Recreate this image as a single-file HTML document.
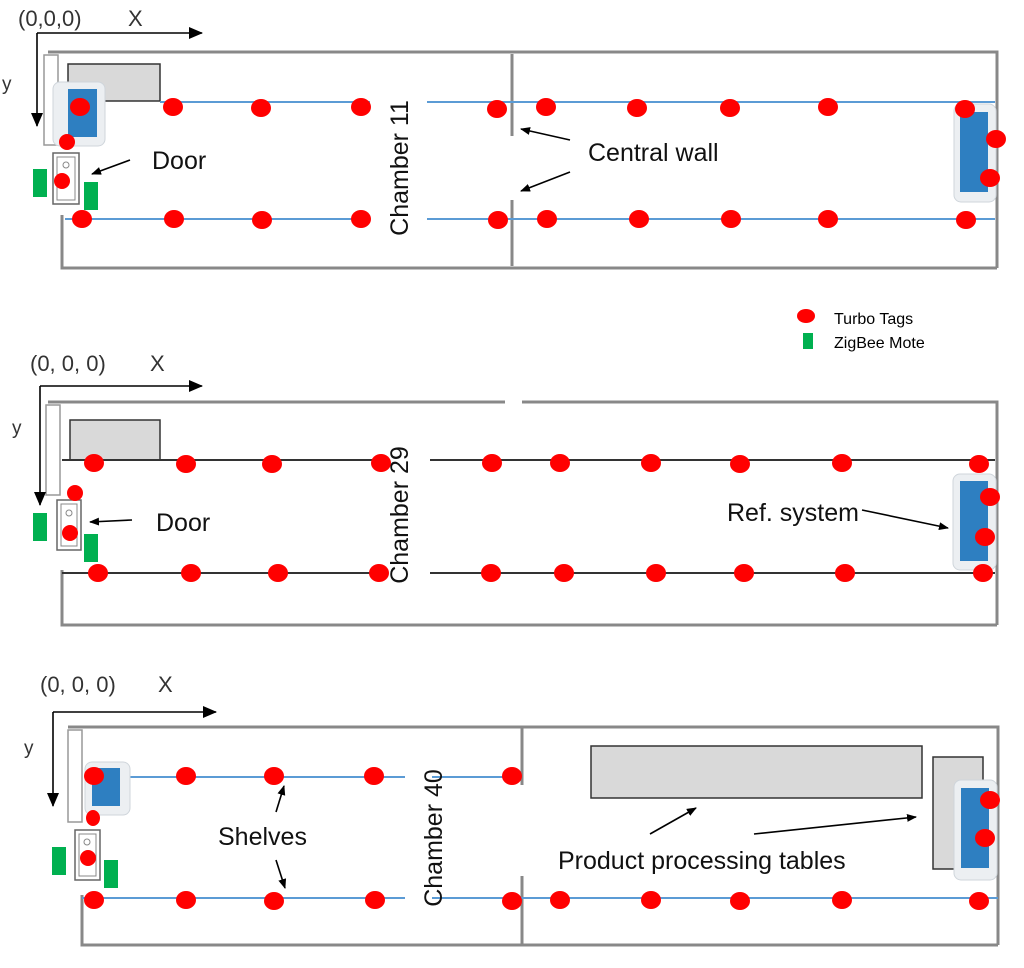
<!DOCTYPE html>
<html><head><meta charset="utf-8"><style>
html,body{margin:0;padding:0;background:#fff;}
svg{display:block;font-family:"Liberation Sans",sans-serif;}
.w{stroke:#888;stroke-width:3;fill:none}
.sb{stroke:#5b9bd5;stroke-width:2}
.sk{stroke:#333;stroke-width:2}
.d{fill:#f00}
.g{fill:#00b050}
.ar{stroke:#000;stroke-width:1.6;marker-end:url(#a)}
.ax{stroke:#000;stroke-width:1.6;marker-end:url(#b)}
.lbl{font-size:25px;fill:#111}
</style></head><body>
<svg width="1024" height="968" viewBox="0 0 1024 968">
<defs>
<marker id="a" markerWidth="10" markerHeight="8" refX="9" refY="4" orient="auto" markerUnits="userSpaceOnUse"><path d="M0,0 L10,4 L0,8 Z" fill="#000"/></marker>
<marker id="b" markerWidth="14" markerHeight="12" refX="13" refY="6" orient="auto" markerUnits="userSpaceOnUse"><path d="M0,0 L14,6 L0,12 Z" fill="#000"/></marker>
</defs>

<!-- ===== Panel 1 ===== -->
<path class="w" d="M48,52 H997 V268 M997,268 H62 V215"/>
<path class="w" d="M512,54 V136 M512,200 V266"/>
<rect x="44" y="55" width="14" height="90" fill="#fff" stroke="#999" stroke-width="1.5"/>
<rect x="68" y="64" width="92" height="37" fill="#d9d9d9" stroke="#333" stroke-width="1.5"/>
<line class="sb" x1="160" y1="102" x2="370" y2="102"/><line class="sb" x1="427" y1="102" x2="995" y2="102"/>
<line class="sb" x1="65" y1="219" x2="370" y2="219"/><line class="sb" x1="427" y1="219" x2="995" y2="219"/>
<rect x="53" y="82" width="52" height="64" rx="7" fill="#eceff2" stroke="#cfd5db"/>
<rect x="68" y="89" width="29" height="48" fill="#2e7fc1"/>
<rect x="53" y="153" width="26" height="51" fill="#fff" stroke="#666" stroke-width="1.5"/><rect x="57" y="157" width="18" height="43" fill="none" stroke="#888"/>
<circle cx="66" cy="165" r="3" fill="none" stroke="#888"/>
<rect class="g" x="33" y="169" width="14" height="28"/><rect class="g" x="84" y="182" width="14" height="28"/>
<rect x="954" y="104" width="42" height="98" rx="7" fill="#eceff2" stroke="#cfd5db"/>
<rect x="960" y="112" width="28" height="80" fill="#2e7fc1"/>
<g class="d">
<ellipse cx="80" cy="107" rx="10" ry="9"/><ellipse cx="67" cy="142" rx="8" ry="8"/><ellipse cx="62" cy="181" rx="8" ry="8"/>
<ellipse cx="173" cy="107" rx="10" ry="9"/><ellipse cx="261" cy="108" rx="10" ry="9"/><ellipse cx="361" cy="107" rx="10" ry="9"/><ellipse cx="497" cy="109" rx="10" ry="9"/><ellipse cx="546" cy="107" rx="10" ry="9"/><ellipse cx="637" cy="108" rx="10" ry="9"/><ellipse cx="730" cy="108" rx="10" ry="9"/><ellipse cx="828" cy="107" rx="10" ry="9"/><ellipse cx="965" cy="109" rx="10" ry="9"/>
<ellipse cx="996" cy="139" rx="10" ry="9"/><ellipse cx="990" cy="178" rx="10" ry="9"/>
<ellipse cx="82" cy="219" rx="10" ry="9"/><ellipse cx="174" cy="219" rx="10" ry="9"/><ellipse cx="262" cy="220" rx="10" ry="9"/><ellipse cx="361" cy="219" rx="10" ry="9"/><ellipse cx="498" cy="220" rx="10" ry="9"/><ellipse cx="547" cy="219" rx="10" ry="9"/><ellipse cx="639" cy="219" rx="10" ry="9"/><ellipse cx="731" cy="219" rx="10" ry="9"/><ellipse cx="828" cy="219" rx="10" ry="9"/><ellipse cx="966" cy="220" rx="10" ry="9"/>
</g>
<line class="ax" x1="37" y1="33" x2="202" y2="33"/><line class="ax" x1="37" y1="33" x2="37" y2="126"/>
<text x="18" y="26" font-size="22" fill="#333">(0,0,0)</text><text x="128" y="26" font-size="22" fill="#333">X</text>
<text x="2" y="90" font-size="19" fill="#333">y</text>
<text transform="translate(408,168) rotate(-90)" text-anchor="middle" class="lbl">Chamber 11</text>
<text x="152" y="169" class="lbl">Door</text>
<line class="ar" x1="130" y1="160" x2="92" y2="174"/>
<text x="588" y="161" class="lbl">Central wall</text>
<line class="ar" x1="570" y1="140" x2="521" y2="129"/><line class="ar" x1="570" y1="172" x2="521" y2="191"/>

<!-- Legend -->
<ellipse cx="806" cy="316" rx="9" ry="7" fill="#f00"/>
<text x="834" y="324" font-size="16" fill="#000">Turbo Tags</text>
<rect class="g" x="803" y="333" width="10" height="16"/>
<text x="834" y="348" font-size="16" fill="#000">ZigBee Mote</text>

<!-- ===== Panel 2 ===== -->
<path class="w" d="M48,402 H505 M522,402 H997 V625 M997,625 H62 V570"/>
<rect x="46" y="405" width="14" height="90" fill="#fff" stroke="#999" stroke-width="1.5"/>
<rect x="70" y="420" width="90" height="40" fill="#d9d9d9" stroke="#333" stroke-width="1.5"/>
<line class="sk" x1="62" y1="460" x2="372" y2="460"/><line class="sk" x1="430" y1="460" x2="995" y2="460"/>
<line class="sk" x1="62" y1="573" x2="372" y2="573"/><line class="sk" x1="430" y1="573" x2="995" y2="573"/>
<rect x="57" y="500" width="24" height="50" fill="#fff" stroke="#666" stroke-width="1.5"/><rect x="61" y="504" width="16" height="42" fill="none" stroke="#888"/>
<circle cx="69" cy="513" r="3" fill="none" stroke="#888"/>
<rect class="g" x="33" y="513" width="14" height="28"/><rect class="g" x="84" y="534" width="14" height="28"/>
<rect x="953" y="474" width="43" height="96" rx="7" fill="#eceff2" stroke="#cfd5db"/>
<rect x="960" y="481" width="28" height="80" fill="#2e7fc1"/>
<g class="d">
<ellipse cx="94" cy="463" rx="10" ry="9"/><ellipse cx="186" cy="464" rx="10" ry="9"/><ellipse cx="272" cy="464" rx="10" ry="9"/><ellipse cx="381" cy="463" rx="10" ry="9"/><ellipse cx="492" cy="463" rx="10" ry="9"/><ellipse cx="560" cy="463" rx="10" ry="9"/><ellipse cx="651" cy="463" rx="10" ry="9"/><ellipse cx="740" cy="464" rx="10" ry="9"/><ellipse cx="842" cy="463" rx="10" ry="9"/><ellipse cx="979" cy="464" rx="10" ry="9"/>
<ellipse cx="990" cy="497" rx="10" ry="9"/><ellipse cx="985" cy="537" rx="10" ry="9"/>
<ellipse cx="75" cy="493" rx="8" ry="8"/><ellipse cx="70" cy="533" rx="8" ry="8"/>
<ellipse cx="98" cy="573" rx="10" ry="9"/><ellipse cx="191" cy="573" rx="10" ry="9"/><ellipse cx="278" cy="573" rx="10" ry="9"/><ellipse cx="379" cy="573" rx="10" ry="9"/><ellipse cx="491" cy="573" rx="10" ry="9"/><ellipse cx="564" cy="573" rx="10" ry="9"/><ellipse cx="656" cy="573" rx="10" ry="9"/><ellipse cx="744" cy="573" rx="10" ry="9"/><ellipse cx="845" cy="573" rx="10" ry="9"/><ellipse cx="983" cy="573" rx="10" ry="9"/>
</g>
<line class="ax" x1="40" y1="386" x2="202" y2="386"/><line class="ax" x1="40" y1="386" x2="40" y2="505"/>
<text x="30" y="371" font-size="22" fill="#333">(0, 0, 0)</text><text x="150" y="371" font-size="22" fill="#333">X</text>
<text x="12" y="434" font-size="19" fill="#333">y</text>
<text transform="translate(408,515) rotate(-90)" text-anchor="middle" class="lbl">Chamber 29</text>
<text x="156" y="531" class="lbl">Door</text>
<line class="ar" x1="132" y1="520" x2="90" y2="522"/>
<text x="727" y="521" class="lbl">Ref. system</text>
<line class="ar" x1="862" y1="510" x2="948" y2="528"/>

<!-- ===== Panel 3 ===== -->
<path class="w" d="M68,727 H998 V945 M998,945 H82 V895"/>
<path class="w" d="M522,727 V785 M522,876 V945"/>
<rect x="68" y="730" width="14" height="92" fill="#fff" stroke="#999" stroke-width="1.5"/>
<line class="sb" x1="100" y1="777" x2="405" y2="777"/><line class="sb" x1="432" y1="777" x2="520" y2="777"/>
<line class="sb" x1="82" y1="898" x2="405" y2="898"/><line class="sb" x1="432" y1="898" x2="998" y2="898"/>
<rect x="591" y="746" width="331" height="52" fill="#d9d9d9" stroke="#333" stroke-width="1.5"/>
<rect x="933" y="757" width="50" height="112" fill="#d9d9d9" stroke="#333" stroke-width="1.5"/>
<rect x="85" y="762" width="45" height="53" rx="7" fill="#eceff2" stroke="#cfd5db"/>
<rect x="92" y="768" width="28" height="38" fill="#2e7fc1"/>
<rect x="954" y="780" width="43" height="100" rx="7" fill="#eceff2" stroke="#cfd5db"/>
<rect x="961" y="788" width="28" height="80" fill="#2e7fc1"/>
<rect x="75" y="830" width="25" height="50" fill="#fff" stroke="#666" stroke-width="1.5"/><rect x="79" y="834" width="17" height="42" fill="none" stroke="#888"/>
<circle cx="87" cy="842" r="3" fill="none" stroke="#888"/>
<rect class="g" x="52" y="847" width="14" height="28"/><rect class="g" x="104" y="860" width="14" height="28"/>
<g class="d">
<ellipse cx="94" cy="776" rx="10" ry="9"/><ellipse cx="186" cy="776" rx="10" ry="9"/><ellipse cx="274" cy="776" rx="10" ry="9"/><ellipse cx="374" cy="776" rx="10" ry="9"/><ellipse cx="512" cy="776" rx="10" ry="9"/>
<ellipse cx="93" cy="818" rx="7" ry="8"/><ellipse cx="88" cy="858" rx="8" ry="8"/>
<ellipse cx="990" cy="800" rx="10" ry="9"/><ellipse cx="985" cy="838" rx="10" ry="9"/>
<ellipse cx="94" cy="900" rx="10" ry="9"/><ellipse cx="186" cy="900" rx="10" ry="9"/><ellipse cx="274" cy="901" rx="10" ry="9"/><ellipse cx="375" cy="900" rx="10" ry="9"/><ellipse cx="512" cy="901" rx="10" ry="9"/><ellipse cx="560" cy="900" rx="10" ry="9"/><ellipse cx="651" cy="900" rx="10" ry="9"/><ellipse cx="740" cy="901" rx="10" ry="9"/><ellipse cx="842" cy="900" rx="10" ry="9"/><ellipse cx="979" cy="901" rx="10" ry="9"/>
</g>
<line class="ax" x1="53" y1="712" x2="216" y2="712"/><line class="ax" x1="53" y1="712" x2="53" y2="806"/>
<text x="40" y="692" font-size="22" fill="#333">(0, 0, 0)</text><text x="158" y="692" font-size="22" fill="#333">X</text>
<text x="24" y="754" font-size="19" fill="#333">y</text>
<text transform="translate(442,838) rotate(-90)" text-anchor="middle" class="lbl">Chamber 40</text>
<text x="218" y="845" class="lbl">Shelves</text>
<line class="ar" x1="276" y1="812" x2="284" y2="786"/><line class="ar" x1="276" y1="860" x2="285" y2="888"/>
<text x="558" y="869" class="lbl">Product processing tables</text>
<line class="ar" x1="650" y1="834" x2="696" y2="808"/><line class="ar" x1="754" y1="834" x2="916" y2="817"/>
</svg>
</body></html>
